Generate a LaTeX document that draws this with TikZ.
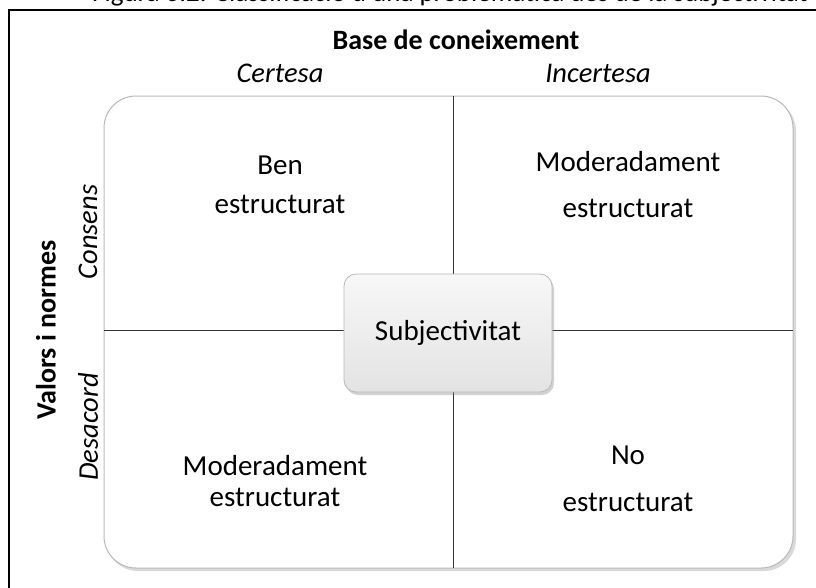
\documentclass[tikz,border=0pt]{standalone}
\usepackage{fontspec}
\setmainfont{Carlito}
\usetikzlibrary{shadows}
\begin{document}
\begin{tikzpicture}[x=1pt,y=-1pt,
  lbl/.style={font=\fontsize{29}{34}\selectfont, align=center, inner sep=0pt},
  axis/.style={font=\bfseries\fontsize{28}{33}\selectfont, inner sep=0pt},
  side/.style={font=\itshape\fontsize{28.5}{33}\selectfont, inner sep=0pt},
  divider/.style={draw=black!80, line width=0.9pt},
  hub/.style={draw=gray!55, line width=0.8pt, rounded corners=12pt,
    top color=gray!6, bottom color=gray!22, minimum width=208pt, minimum height=118pt,
    drop shadow={shadow xshift=2pt, shadow yshift=-3pt, opacity=0.35},
    font=\fontsize{29}{34}\selectfont}
]
\useasboundingbox (0,0) rectangle (816,587);
\fill[white] (0,0) rectangle (816,587);

% caption line above the frame
\node[font=\fontsize{27}{32}\selectfont, anchor=base, inner sep=0pt] (caption) at (450,1.5)
  {Figura 6.2. Classificació d'una problemàtica des de la subjectivitat};

% outer frame
\draw[line width=2pt] (9,600) -- (9,10) -- (830,10);

% quadrant panel
\fill[gray!30, rounded corners=32pt] (106,99) rectangle (796,571);
\draw[gray!55, line width=1pt, fill=white, rounded corners=32pt] (104,96) rectangle (793,568);
\coordinate (vt) at (453,96);
\coordinate (vb) at (453,568);
\coordinate (hl) at (104,330);
\coordinate (hr) at (793,330);
\draw[divider] (vt) -- (vb);
\draw[divider] (hl) -- (hr);

% axis titles
\node[axis] (kb) at (456,40) {Base de coneixement};
\node[side] (cert) at (280,73) {Certesa};
\node[side] (incert) at (598,73) {Incertesa};
\node[axis, rotate=90] (vals) at (46,330) {Valors i normes};
\node[side, rotate=90] (cons) at (88,232) {Consens};
\node[side, rotate=90] (desac) at (88,427) {Desacord};

% quadrant labels
\node[lbl] (q1a) at (280,165) {Ben};
\node[lbl] (q1b) at (280,204) {estructurat};
\node[lbl] (q2a) at (628,162) {Moderadament};
\node[lbl] (q2b) at (628,208) {estructurat};
\node[lbl] (q3a) at (275,466) {Moderadament};
\node[lbl] (q3b) at (275,497) {estructurat};
\node[lbl] (q4a) at (628,455) {No};
\node[lbl] (q4b) at (628,502) {estructurat};

% central node
\node[hub] (subj) at (448,333) {Subjectivitat};
\end{tikzpicture}
\end{document}
